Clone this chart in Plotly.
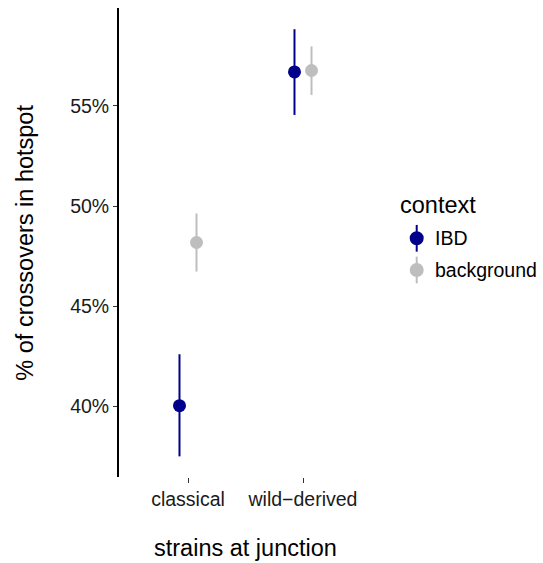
import plotly.graph_objects as go

# Crossover share inside hotspots, by strain type at the junction and context
strains = ["classical", "wild\u2212derived"]
contexts = ["IBD", "background"]
colors = {"IBD": "#00008B", "background": "#BEBEBE"}

mean_ibd = [40.03, 56.70]
low_ibd = [37.50, 54.55]
high_ibd = [42.60, 58.83]

mean_bg = [48.18, 56.77]
low_bg = [46.73, 55.55]
high_bg = [49.63, 57.97]

y_ticks = [40, 45, 50, 55]
y_tick_labels = ["40%", "45%", "50%", "55%"]

series = {
    "IBD": (mean_ibd, low_ibd, high_ibd),
    "background": (mean_bg, low_bg, high_bg),
}

dodge = {"IBD": -0.074, "background": 0.074}
font = "Liberation Sans, Arial, Helvetica, sans-serif"

fig = go.Figure()
for ctx in contexts:
    m, lo, hi = series[ctx]
    xs = [i + 1 + dodge[ctx] for i in range(len(strains))]
    fig.add_trace(go.Scatter(
        x=xs, y=m, mode="markers", name=ctx, showlegend=False,
        marker=dict(size=13, color=colors[ctx], line=dict(width=0)),
        error_y=dict(type="data", symmetric=False,
                     array=[h - v for h, v in zip(hi, m)],
                     arrayminus=[v - l for v, l in zip(m, lo)],
                     color=colors[ctx], thickness=2, width=0),
    ))

fig.update_layout(
    width=543, height=563,
    margin=dict(l=119, r=171, t=8, b=86),
    paper_bgcolor="white", plot_bgcolor="white",
    font=dict(family=font, color="#1a1a1a"),
    xaxis=dict(range=[0.4, 2.6], tickvals=[1, 2], ticktext=strains,
               showgrid=False, zeroline=False, showline=False,
               ticks="outside", ticklen=5, tickwidth=1.3, tickcolor="#333",
               tickfont=dict(size=19.5, color="#1a1a1a")),
    yaxis=dict(range=[36.47, 59.89], tickvals=y_ticks, ticktext=y_tick_labels,
               showgrid=False, zeroline=False, showline=True,
               linecolor="black", linewidth=1.8,
               ticks="outside", ticklen=4, tickwidth=1.3, tickcolor="#333",
               tickfont=dict(size=19.5, color="#1a1a1a")),
)

# Axis titles
fig.add_annotation(text="strains at junction", xref="paper", yref="paper",
                   x=0.5, y=-0.152, xanchor="center", yanchor="middle",
                   showarrow=False, font=dict(size=23.5, color="black"))
fig.add_annotation(text="% of crossovers in hotspot", xref="paper", yref="paper",
                   x=-0.375, y=0.5, xanchor="center", yanchor="middle", textangle=-90,
                   showarrow=False, font=dict(size=23.5, color="black"))

# Legend: title, key glyphs (point with vertical range line) and labels
fig.add_annotation(text="context", xref="paper", yref="paper",
                   x=1.1028, y=0.58, xanchor="left", yanchor="middle",
                   showarrow=False, font=dict(size=23.5, color="black"))
key_x = 1.1767
key_y = {"IBD": 0.509, "background": 0.4414}
for ctx in contexts:
    cy = key_y[ctx]
    fig.add_shape(type="line", xref="paper", yref="paper",
                  x0=key_x, x1=key_x, y0=cy - 0.0285, y1=cy + 0.0285,
                  line=dict(color=colors[ctx], width=2))
    fig.add_shape(type="circle", xref="paper", yref="paper",
                  xsizemode="pixel", ysizemode="pixel",
                  xanchor=key_x, yanchor=cy, x0=-7, x1=7, y0=-7, y1=7,
                  fillcolor=colors[ctx], line=dict(width=0))
    fig.add_annotation(text=ctx, xref="paper", yref="paper",
                       x=1.241, y=cy, xanchor="left", yanchor="middle",
                       showarrow=False, font=dict(size=19.5, color="black"))

fig.write_html("out.html")
